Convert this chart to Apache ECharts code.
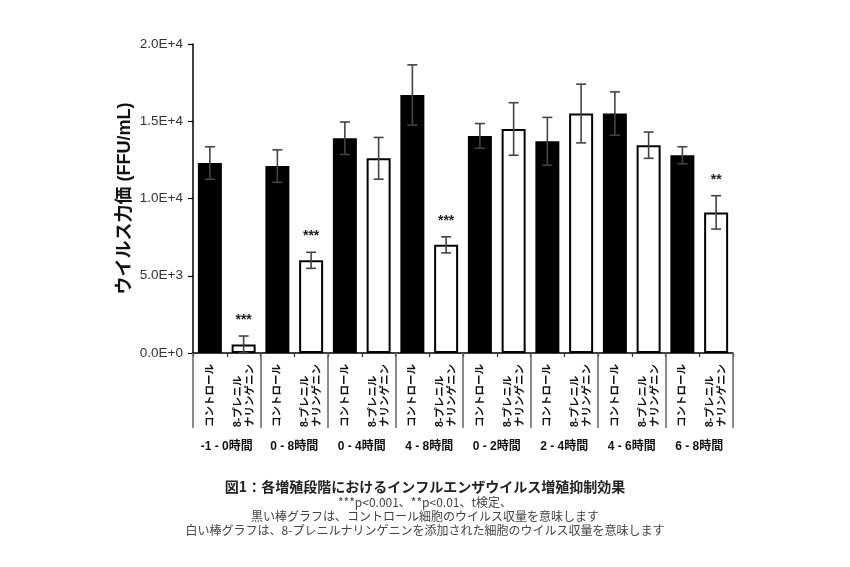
<!DOCTYPE html>
<html><head><meta charset="utf-8">
<script src="https://cdn.jsdelivr.net/npm/echarts@6/dist/echarts.min.js"></script>
<style>html,body{margin:0;padding:0;background:#fff}#c{width:850px;height:567px}</style>
</head><body><div id="c"></div>
<script>
var groups = ['-1 - 0時間','0 - 8時間','0 - 4時間','4 - 8時間','0 - 2時間','2 - 4時間','4 - 6時間','6 - 8時間'];
var barLabels = ['コントロール', '8-プレニル\nナリンゲニン'];
var controlMean = [12300, 12100, 13900, 16700, 14050, 13700, 15500, 12800];
var controlErr  = [1050, 1050, 1050, 1950, 800, 1550, 1400, 550];
var prenylMean  = [550, 6000, 12600, 7000, 14500, 15500, 13450, 9100];
var prenylErr   = [550, 520, 1350, 520, 1700, 1900, 850, 1080];
var prenylSig   = ['***','***','','***','','','','**'];
var yName = 'ウイルス力価 (FFU/mL)';
var captionTitle = '図1：各増殖段階におけるインフルエンザウイルス増殖抑制効果';
var captionLines = ['***p<0.001、**p<0.01、t検定、',
  '黒い棒グラフは、コントロール細胞のウイルス収量を意味します',
  '白い棒グラフは、8-プレニルナリンゲニンを添加された細胞のウイルス収量を意味します'];

var cats = [], ctrlData = [], prenData = [], errData = [], sigArr = [];
for (var i = 0; i < groups.length; i++) {
  cats.push(barLabels[0]); cats.push(barLabels[1]);
  ctrlData.push(controlMean[i]); ctrlData.push(null);
  prenData.push(null); prenData.push(prenylMean[i]);
  errData.push([2*i, controlMean[i], controlErr[i]]); sigArr.push('');
  errData.push([2*i+1, prenylMean[i], prenylErr[i]]); sigArr.push(prenylSig[i]);
}
function fmtE(v){
  if (v === 0) return '0.0E+0';
  var e = Math.floor(Math.log10(v));
  return (v/Math.pow(10,e)).toFixed(1) + 'E+' + e;
}
var FF = '"Liberation Sans", "Noto Sans CJK JP", sans-serif';
var chart = echarts.init(document.getElementById('c'));
var graphics = [{
  type:'text', left:'center', top: 480,
  style:{text: captionTitle, font:'bold 14px "Noto Sans CJK JP", sans-serif', fill:'#222'}
}];
captionLines.forEach(function(t, k){
  graphics.push({type:'text', left:'center', top: 496 + k*14,
    style:{text:t, font:'12px "Noto Sans CJK JP", sans-serif', fill:'#444'}});
});
chart.setOption({
  animation:false,
  backgroundColor:'#fff',
  grid:{left:193, right:117, top:44, bottom:214},
  xAxis:[{
    type:'category', data:cats, position:'bottom',
    axisLine:{lineStyle:{color:'#000', width:1.5}},
    axisTick:{show:true, length:4, lineStyle:{color:'#333', width:1.2}},
    axisLabel:{interval:0, rotate:90, align:'left', verticalAlign:'middle', margin:74,
      fontSize:10.5, fontWeight:'bold', color:'#111', lineHeight:12, fontFamily:FF}
  },{
    type:'category', data:groups, position:'bottom',
    axisLine:{show:false},
    axisTick:{show:true, length:75, lineStyle:{color:'#666', width:1.5}},
    axisLabel:{interval:0, margin:88, fontSize:12, fontWeight:'bold', color:'#111', fontFamily:FF}
  }],
  yAxis:{
    type:'value', min:0, max:20000, interval:5000,
    name:yName, nameLocation:'middle', nameGap:59, nameRotate:90, nameMoveOverlap:false,
    nameTextStyle:{fontSize:18, fontWeight:'bold', color:'#111', fontFamily:FF},
    axisLine:{show:true, lineStyle:{color:'#000', width:1.5}},
    axisTick:{show:true, length:5, lineStyle:{color:'#000', width:1.2}},
    splitLine:{show:false},
    axisLabel:{formatter:fmtE, fontSize:13.5, color:'#333', margin:10, fontFamily:FF}
  },
  series:[{
    type:'bar', name:'コントロール', data:ctrlData, barWidth:24, barGap:'-100%',
    itemStyle:{color:'#000'}
  },{
    type:'bar', name:'8-プレニルナリンゲニン', data:prenData, barWidth:24, barGap:'-100%',
    itemStyle:{color:'#fff', borderColor:'#000', borderWidth:2}
  },{
    type:'custom', data:errData, z:10,
    encode:{x:0, y:1},
    renderItem:function(params, api){
      var x = api.value(0), m = api.value(1), e = api.value(2);
      var top = api.coord([x, m+e]), bot = api.coord([x, m-e]);
      var cw = 5;
      var ls = {stroke:'#444', lineWidth:1.6};
      var ch = [
        {type:'line', shape:{x1:top[0], y1:top[1], x2:bot[0], y2:bot[1]}, style:ls},
        {type:'line', shape:{x1:top[0]-cw, y1:top[1], x2:top[0]+cw, y2:top[1]}, style:ls},
        {type:'line', shape:{x1:bot[0]-cw, y1:bot[1], x2:bot[0]+cw, y2:bot[1]}, style:ls}
      ];
      var s = sigArr[params.dataIndex];
      if (s) ch.push({type:'text', x:top[0], y:top[1]-9,
        style:{text:s, textAlign:'center', textVerticalAlign:'bottom',
          font:'bold 14px "Liberation Sans", sans-serif', fill:'#222'}});
      return {type:'group', children:ch};
    }
  }],
  graphic: graphics
});
</script></body></html>
